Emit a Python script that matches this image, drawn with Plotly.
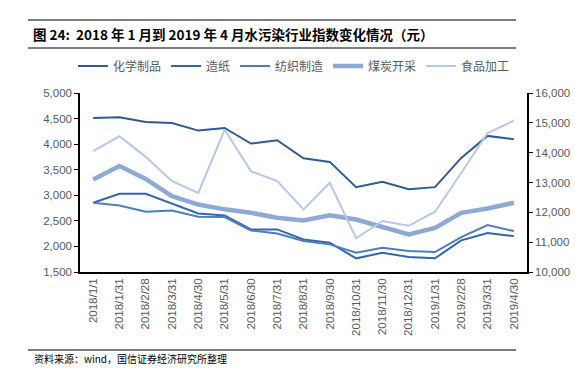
import plotly.graph_objects as go

dates = ["2018/1/1", "2018/1/31", "2018/2/28", "2018/3/31", "2018/4/30", "2018/5/31",
         "2018/6/30", "2018/7/31", "2018/8/31", "2018/9/30", "2018/10/31", "2018/11/30",
         "2018/12/31", "2019/1/31", "2019/2/28", "2019/3/31", "2019/4/30"]

chem = [4512, 4525, 4434, 4414, 4265, 4317, 4011, 4076, 3725, 3653, 3159, 3263, 3120, 3159, 3731, 4161, 4096]
paper = [2853, 3029, 3029, 2834, 2645, 2606, 2333, 2333, 2137, 2072, 1767, 1877, 1793, 1767, 2118, 2261, 2202]
textile = [2853, 2801, 2677, 2703, 2580, 2573, 2313, 2254, 2105, 2040, 1877, 1974, 1909, 1890, 2183, 2417, 2300]
coal = [13100, 13550, 13120, 12540, 12260, 12100, 11985, 11820, 11730, 11900, 11760, 11520, 11260, 11480, 11985, 12130, 12320]
food = [14050, 14550, 13860, 13045, 12650, 14770, 13380, 13045, 12100, 12990, 11130, 11710, 11550, 12020, 13320, 14660, 15070]

left_ticks = [1500, 2000, 2500, 3000, 3500, 4000, 4500, 5000]
right_ticks = [10000, 11000, 12000, 13000, 14000, 15000, 16000]

fig = go.Figure()
fig.add_trace(go.Scatter(x=dates, y=chem, name="化学制品", mode="lines",
                         line=dict(color="#2F5A92", width=2)))
fig.add_trace(go.Scatter(x=dates, y=paper, name="造纸", mode="lines",
                         line=dict(color="#3566AA", width=2)))
fig.add_trace(go.Scatter(x=dates, y=textile, name="纺织制造", mode="lines",
                         line=dict(color="#4A7DC2", width=2)))
fig.add_trace(go.Scatter(x=dates, y=coal, name="煤炭开采", mode="lines", yaxis="y2",
                         line=dict(color="#8FA9D6", width=4.5)))
fig.add_trace(go.Scatter(x=dates, y=food, name="食品加工", mode="lines", yaxis="y2",
                         line=dict(color="#B7C7E5", width=2)))

L, R, T, B = 72, 69, 85, 110
W, H = 588, 374
pw, ph = W - L - R, H - T - B

def px(x):
    return (x - L) / pw

def py(y):
    return (H - B - y) / ph

tickfont = dict(family="Liberation Sans, Arial, sans-serif", size=11.5, color="#595959")

fig.update_layout(
    width=W, height=H,
    margin=dict(l=L, r=R, t=T, b=B),
    paper_bgcolor="white", plot_bgcolor="white",
    font=dict(family="Noto Sans CJK SC, sans-serif", color="#595959"),
    showlegend=True,
    legend=dict(orientation="h", x=px(286), xanchor="center", y=py(58), yanchor="middle",
                font=dict(family="Noto Sans CJK SC, sans-serif", size=12, color="#595959"),
                itemwidth=30, tracegroupgap=0, bgcolor="rgba(0,0,0,0)"),
    xaxis=dict(type="category", range=[-0.5, 16.5], showgrid=False, zeroline=False,
               showline=True, linecolor="black", linewidth=1.5, ticks="",
               tickangle=-90, tickfont=dict(family="Liberation Sans, Arial, sans-serif", size=11.5, color="#595959"),
               fixedrange=True),
    yaxis=dict(range=[1500, 5000], tickvals=left_ticks, tickformat=",d", showgrid=False,
               zeroline=False, showline=True, linecolor="black", linewidth=1.5,
               ticks="outside", ticklen=4, tickcolor="black", tickfont=tickfont),
    yaxis2=dict(range=[10000, 16000], tickvals=right_ticks, tickformat=",d", overlaying="y",
                side="right", showgrid=False, zeroline=False, showline=True, linecolor="black",
                linewidth=1.5, ticks="outside", ticklen=4, tickcolor="black", tickfont=tickfont),
    shapes=[
        dict(type="line", xref="paper", yref="paper", x0=px(20), x1=px(508), y0=py(12), y1=py(12),
             line=dict(color="#555555", width=1.5)),
        dict(type="line", xref="paper", yref="paper", x0=px(20), x1=px(508), y0=py(40), y1=py(40),
             line=dict(color="#555555", width=1.5)),
        dict(type="line", xref="paper", yref="paper", x0=px(20), x1=px(508), y0=py(342), y1=py(342),
             line=dict(color="#555555", width=1.5)),
    ],
    annotations=[
        dict(text="<b>图 24:  2018 年 1 月到 2019 年 4 月水污染行业指数变化情况（元）</b>",
             xref="paper", yref="paper", x=px(23), y=py(26), xanchor="left", yanchor="middle",
             showarrow=False, font=dict(family="Noto Sans CJK SC, sans-serif", size=13.5, color="black")),
        dict(text="资料来源：wind，国信证券经济研究所整理",
             xref="paper", yref="paper", x=px(24), y=py(350), xanchor="left", yanchor="middle",
             showarrow=False, font=dict(family="Noto Sans CJK SC, sans-serif", size=10, color="black")),
    ],
)

fig.write_html("out.html")
